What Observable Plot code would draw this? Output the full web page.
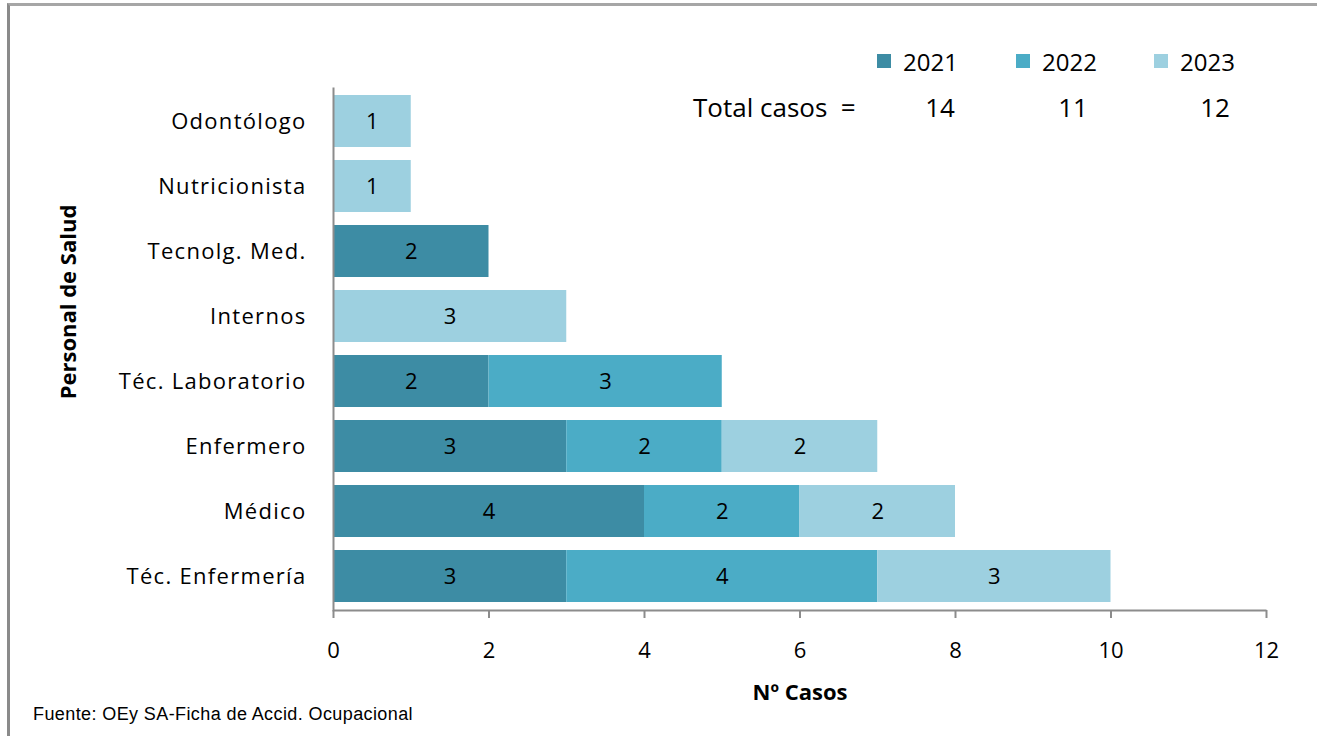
<!DOCTYPE html>
<html><head><meta charset="utf-8">
<script src="https://cdn.jsdelivr.net/npm/d3@7"></script>
<script src="https://cdn.jsdelivr.net/npm/@observablehq/plot@0.6"></script>
<style>
html,body{margin:0;padding:0;background:#fff;}
body{width:1317px;height:736px;overflow:hidden;position:relative;font-family:"Open Sans",sans-serif;color:#000;}
#frame{position:absolute;left:7px;top:3px;width:1420px;height:800px;border-left:3px solid #8a8a8a;border-top:3px solid #a6a6a6;box-sizing:border-box;}
#chart{position:absolute;left:0;top:0;}
#chart g[aria-label="y-axis tick label"] text{letter-spacing:1.3px;}
.leg{position:absolute;top:45px;height:32px;display:flex;align-items:center;font-size:24px;}
.sw{width:14px;height:14px;margin-right:12px;}
.tot{position:absolute;top:89px;height:36px;line-height:36px;font-size:26px;}
.num{transform:translateX(-50%);}
#ytitle{position:absolute;left:67px;top:302px;transform:translate(-50%,-50%) rotate(-90deg);font-weight:bold;font-size:22px;white-space:nowrap;line-height:30px;}
#caption{position:absolute;left:33px;top:702px;font-family:"Liberation Sans",Arial,sans-serif;font-size:18px;letter-spacing:0.4px;line-height:24px;white-space:pre;}
</style>
</head><body>
<div id="frame"></div>
<div id="chart"></div>
<div id="legend"></div>
<div id="ytitle"></div>
<div id="caption"></div>
<script>
const categories = ["Odontólogo","Nutricionista","Tecnolg. Med.","Internos","Téc. Laboratorio","Enfermero","Médico","Téc. Enfermería"];
const years = ["2021","2022","2023"];
const v2021 = [0,0,2,0,2,3,4,3];
const v2022 = [0,0,0,0,3,2,2,4];
const v2023 = [1,1,0,3,0,2,2,3];
const totals = [14,11,12];
const xTicks = [0,2,4,6,8,10,12];
const colors = ["#3d8ca4","#4bacc6","#9dd0e0"];
const xLabel = "Nº Casos";
const yLabel = "Personal de Salud";
const totalLabel = "Total casos  =";
const caption = "Fuente: OEy SA-Ficha de Accid. Ocupacional";

const series = [v2021, v2022, v2023];
const rows = [];
years.forEach((yr, k) => {
  categories.forEach((c, i) => {
    if (series[k][i] > 0) rows.push({cat: c, year: yr, value: series[k][i]});
  });
});

const W = 1317, H = 736, mL = 333, mR = 51, mT = 87, mB = 126;
const fw = W - mL - mR, fh = H - mT - mB;

const chart = Plot.plot({
  width: W, height: H,
  marginLeft: mL, marginRight: mR, marginTop: mT, marginBottom: mB,
  style: {fontFamily: "'Open Sans', sans-serif", fontSize: "22px", color: "#000", background: "transparent", overflow: "visible"},
  x: {domain: [0, 12]},
  y: {domain: categories, paddingInner: 0.2, paddingOuter: 0.1},
  color: {domain: years, range: colors},
  marks: [
    Plot.barX(rows, Plot.stackX({x: "value", y: "cat", fill: "year"})),
    Plot.text(rows, Plot.stackX({x: "value", y: "cat", z: "year", text: d => String(d.value), fill: "#000", fontSize: 22})),
    Plot.frame({stroke: "#8c8c8c", strokeWidth: 2, strokeDasharray: `0 ${fw + fh} ${fw + fh}`}),
    Plot.axisX({ticks: xTicks, tickSize: 8, tickPadding: 24, stroke: "#8c8c8c", strokeWidth: 2, fill: "#000", label: null, fontSize: 22}),
    Plot.axisY({tickSize: 0, tickPadding: 27, fill: "#000", label: null, fontSize: 22}),
    Plot.text([xLabel], {frameAnchor: "bottom", text: d => d, dy: 82, lineAnchor: "middle", fontWeight: "bold", fontSize: 22, fill: "#000"})
  ]
});
document.getElementById("chart").appendChild(chart);

// legend
const legend = document.getElementById("legend");
const legX = [877, 1016, 1154];
years.forEach((yr, k) => {
  const d = document.createElement("div");
  d.className = "leg";
  d.style.left = legX[k] + "px";
  d.innerHTML = `<span class="sw" style="background:${colors[k]}"></span><span>${yr}</span>`;
  legend.appendChild(d);
});
const t = document.createElement("div");
t.className = "tot";
t.style.left = "693px";
t.style.whiteSpace = "pre";
t.textContent = totalLabel;
legend.appendChild(t);
const totX = [940, 1073, 1215];
totals.forEach((v, k) => {
  const d = document.createElement("div");
  d.className = "tot num";
  d.style.left = totX[k] + "px";
  d.textContent = v;
  legend.appendChild(d);
});
document.getElementById("ytitle").textContent = yLabel;
document.getElementById("caption").textContent = caption;
</script>
</body></html>
